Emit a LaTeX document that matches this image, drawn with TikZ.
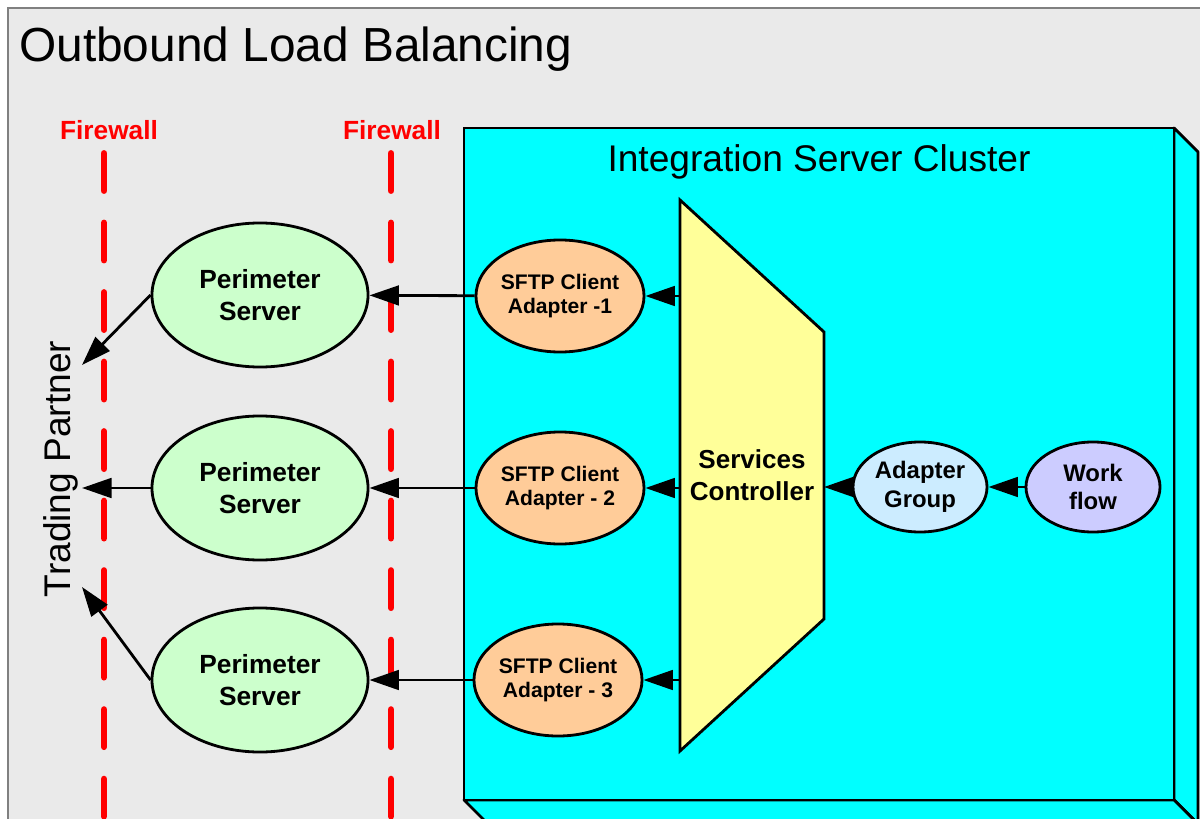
\documentclass[tikz,border=0pt]{standalone}
\usepackage{fontspec}
\setmainfont{Liberation Sans}
\usetikzlibrary{arrows.meta,shapes.geometric}

\definecolor{bggray}{HTML}{EAEAEA}
\definecolor{framegray}{HTML}{808080}
\definecolor{clustercyan}{HTML}{00FFFF}
\definecolor{ctrlyellow}{HTML}{FFFF99}
\definecolor{perimgreen}{HTML}{CCFFCC}
\definecolor{sftporange}{HTML}{FFCC99}
\definecolor{groupblue}{HTML}{CCECFF}
\definecolor{flowlilac}{HTML}{CCCCFF}

\tikzset{
	server/.style={ellipse, draw, line width=2pt, fill=perimgreen, minimum width=5.4cm, minimum height=3.6cm, inner sep=0pt, align=center, font=\fontsize{18.7}{22.7}\selectfont\bfseries},
	sftp/.style={ellipse, draw, line width=2pt, fill=sftporange, minimum width=4.2cm, minimum height=2.8cm, inner sep=0pt, align=center, font=\fontsize{15}{17.7}\selectfont\bfseries},
	small/.style={ellipse, draw, line width=2pt, minimum width=3.35cm, minimum height=2.25cm, inner sep=0pt, align=center, font=\fontsize{17}{20.5}\selectfont\bfseries},
	flow/.style={-{Triangle[length=21pt,width=14pt]}, line width=2pt},
	firewall/.style={red, line width=4.6pt, line cap=round, dash pattern=on 0.935cm off 0.8025cm},
	fwlabel/.style={text=red, font=\fontsize{18.7}{22}\selectfont\bfseries}
}

\begin{document}
\begin{tikzpicture}[x=0.025cm, y=-0.025cm]
		\useasboundingbox (0,0) rectangle (1200,819);
		\clip (0,0) rectangle (1200,819);
		% background frame
		\fill[white] (0,0) rectangle (1200,819);
		\fill[bggray] (8,8) rectangle (1200,819);
		\draw[framegray, line width=1pt] (8,819) -- (8,8) -- (1200,8);
		\node[anchor=base west, inner sep=0pt, font=\fontsize{34}{40}\selectfont] (title) at (19,62) {Outbound Load Balancing};
		% firewalls
		\node[fwlabel] (fw1) at (109,130) {Firewall};
		\node[fwlabel] (fw2) at (392,130) {Firewall};
		\draw[firewall] (104,153.3) -- (104,830);
		\draw[firewall] (391,153.3) -- (391,830);
		% cluster box
		\filldraw[fill=clustercyan, line width=2pt, line join=round] (1174,128) -- (1198,152) -- (1198,824) -- (1174,800) -- cycle;
		\filldraw[fill=clustercyan, line width=2pt, line join=round] (464,800) -- (1174,800) -- (1198,824) -- (488,824) -- cycle;
		\filldraw[fill=clustercyan, line width=2pt] (464,128) rectangle (1174,800);
		\node[anchor=base, inner sep=0pt, font=\fontsize{26.4}{30}\selectfont] (cluster) at (819,172) {Integration Server Cluster};
		% services controller
		\coordinate (tl) at (680,200);
		\coordinate (tr) at (824,332);
		\coordinate (br) at (824,619);
		\coordinate (bl) at (680,751);
		\filldraw[fill=ctrlyellow, line width=2pt] (tl) -- (tr) -- (br) -- (bl) -- cycle;
		\node[align=center, font=\fontsize{18.5}{22.7}\selectfont\bfseries] (SC) at (752,475) {Services\\Controller};
		% nodes
		\node[server] (P1) at (260,295) {Perimeter\\Server};
		\node[server] (P2) at (260,488) {Perimeter\\Server};
		\node[server] (P3) at (260,680) {Perimeter\\Server};
		\node[sftp] (A1) at (560,296) {SFTP Client\\Adapter -1};
		\node[sftp] (A2) at (560,488) {SFTP Client\\Adapter - 2};
		\node[sftp] (A3) at (558,680) {SFTP Client\\Adapter - 3};
		\node[small, fill=groupblue] (AG) at (920,487) {Adapter\\Group};
		\node[small, fill=flowlilac] (WF) at (1093,487) {Work\\flow};
		\node[rotate=90, anchor=base, inner sep=0pt, font=\fontsize{26.4}{30}\selectfont] (TP) at (70,469) {Trading Partner};
		\coordinate (tp1) at (82,365);
		\coordinate (tp2) at (82,488);
		\coordinate (tp3) at (82,587);
		% connectors
		\draw[flow] (WF) -- (AG);
		\draw[flow] (AG.west) -- (AG.west -| tr);
		\draw[flow] (A1 -| tl) -- (A1.east);
		\draw[flow] (A2 -| tl) -- (A2.east);
		\draw[flow] (A3 -| tl) -- (A3.east);
		\draw[flow] (A1) -- (P1);
		\draw[flow] (A2) -- (P2);
		\draw[flow] (A3) -- (P3);
		\draw[flow] (P1.west) -- (tp1);
		\draw[flow] (P2.west) -- (tp2);
		\draw[flow] (P3.west) -- (tp3);
	\end{tikzpicture}
\end{document}
